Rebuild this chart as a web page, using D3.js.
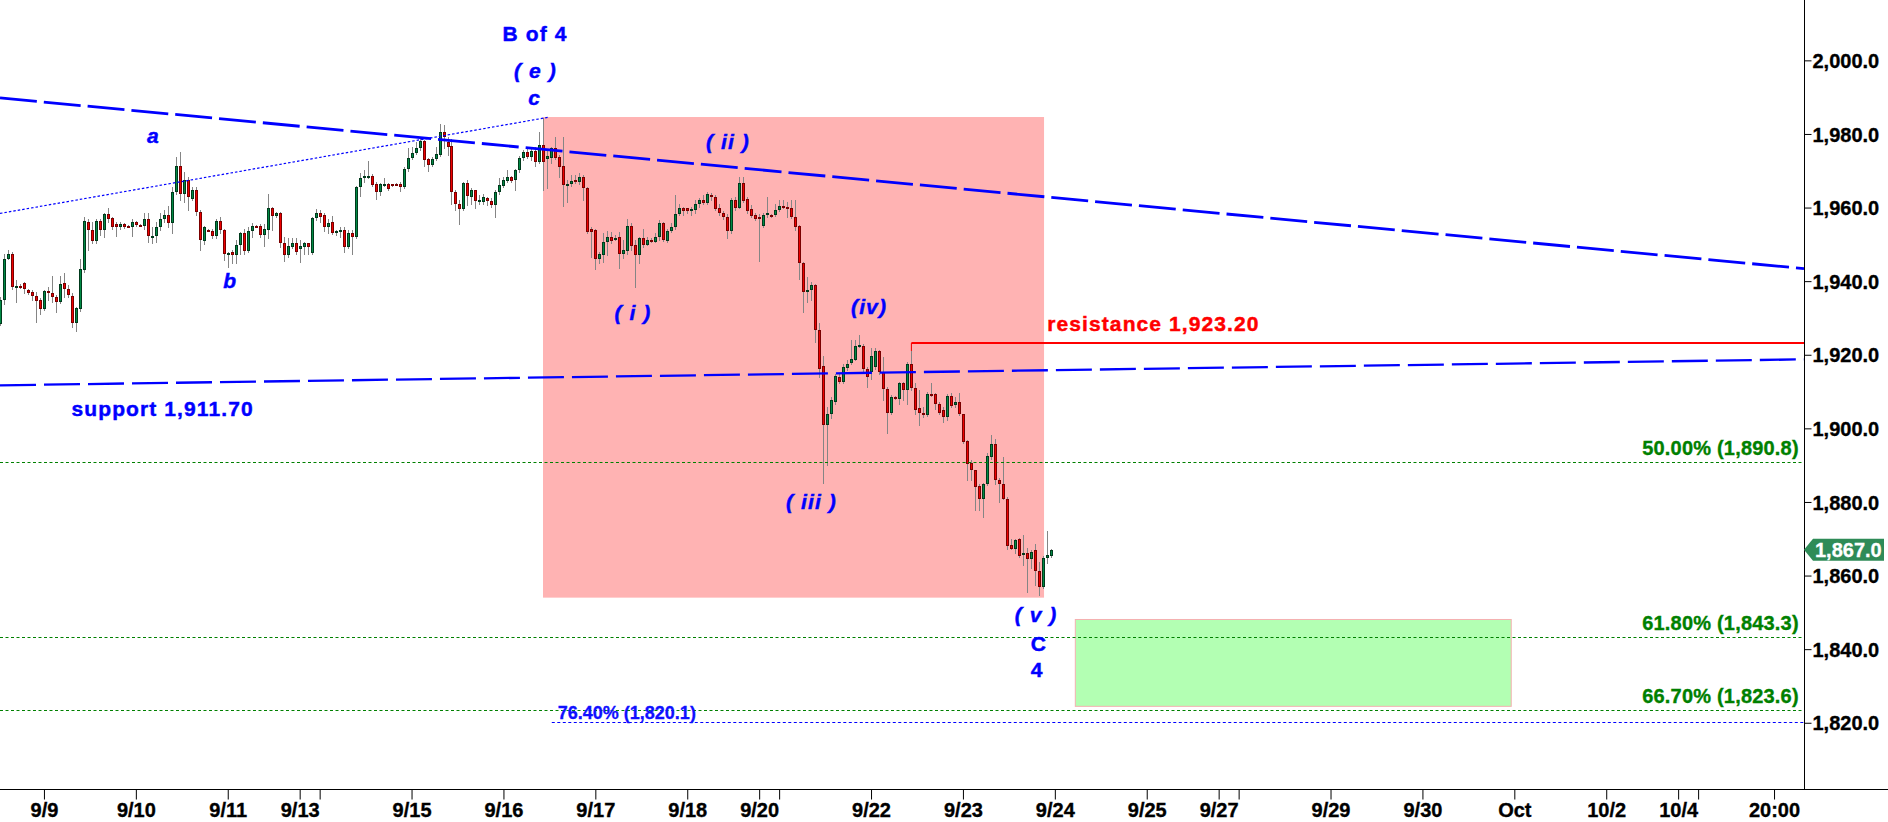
<!DOCTYPE html>
<html><head><meta charset="utf-8">
<script src="https://cdn.jsdelivr.net/npm/d3@7"></script>
<style>
html,body{margin:0;padding:0;background:#fff;overflow:hidden;}
svg{display:block;font-family:"Liberation Sans",Arial,sans-serif;}
</style></head><body>
<svg id="chart" width="1888" height="822"></svg>
<script>
// ---------- DATA (hourly candles, index = hour slot) ----------
const opens=[1928.3,1935.0,1946.1,1947.5,1938.3,1938.8,1939.5,1937.6,1937.0,1936.1,1934.9,1932.5,1937.2,1936.7,1935.6,1934.4,1939.5,1937.9,1936.1,1928.7,
1932.5,1943.0,1956.0,1954.0,1951.0,1956.4,1954.0,1958.2,1957.1,1955.4,1954.6,1955.4,1955.0,1954.6,1956.0,1955.2,1955.1,1956.9,1952.2,1952.2,
1954.6,1956.8,1957.9,1955.7,1964.2,1971.4,1963.7,1967.5,1962.2,1964.9,1958.7,1951.0,1954.0,1953.6,1952.2,1956.3,1953.9,1947.4,1947.9,1947.2,
1949.7,1953.1,1948.3,1953.5,1955.0,1954.9,1952.6,1954.0,1959.8,1957.8,1958.4,1950.4,1947.2,1949.3,1950.3,1948.8,1949.3,1950.3,1947.7,1957.1,
1958.4,1957.9,1954.8,1956.0,1953.0,1953.8,1953.9,1949.3,1953.2,1951.9,1965.5,1967.9,1968.5,1968.6,1966.4,1964.2,1966.3,1966.4,1966.3,1966.4,
1966.4,1965.5,1970.4,1973.4,1974.7,1976.2,1978.0,1973.1,1971.6,1973.1,1974.3,1980.6,1977.9,1976.7,1964.3,1961.1,1959.7,1966.6,1962.9,1964.7,
1961.9,1961.5,1962.6,1961.8,1960.6,1964.2,1965.8,1967.3,1968.2,1967.5,1970.2,1973.6,1975.1,1973.8,1975.4,1972.4,1977.0,1973.3,1973.4,1976.3,
1973.8,1971.3,1966.2,1966.3,1967.6,1967.0,1968.2,1965.2,1954.1,1953.9,1946.1,1947.1,1950.6,1952.1,1951.6,1951.9,1947.4,1948.3,1955.1,1949.7,
1947.0,1951.7,1949.8,1951.2,1950.7,1951.9,1955.7,1951.0,1953.5,1954.6,1958.2,1959.8,1959.8,1959.5,1959.3,1960.9,1962.0,1961.3,1963.4,1962.8,
1959.9,1958.6,1957.5,1953.7,1962.0,1960.0,1966.6,1962.4,1959.5,1957.9,1957.5,1955.0,1957.9,1958.0,1957.9,1959.3,1960.5,1960.2,1959.8,1957.3,
1955.0,1945.0,1937.1,1937.7,1938.9,1926.8,1916.9,1900.9,1903.8,1907.2,1914.0,1912.6,1916.5,1917.8,1918.7,1922.4,1922.5,1916.2,1915.3,1916.7,
1921.0,1915.3,1910.8,1904.2,1908.5,1908.0,1912.2,1910.5,1917.6,1911.1,1905.4,1904.2,1903.5,1909.4,1909.3,1906.7,1905.1,1903.1,1908.7,1906.3,
1907.1,1903.8,1896.5,1890.6,1888.6,1884.3,1880.8,1884.8,1892.2,1895.7,1886.1,1884.8,1880.9,1868.2,1867.3,1869.8,1865.8,1866.0,1864.5,1866.9,
1861.3,1856.9,1864.9,1865.3];
const highs=[1935.8,1947.5,1948.4,1948.0,1940.3,1939.2,1939.8,1938.0,1937.6,1937.1,1935.3,1937.6,1938.5,1941.4,1936.2,1941.4,1942.1,1938.9,1936.7,1933.0,
1945.9,1957.3,1957.0,1956.1,1957.0,1957.0,1958.4,1959.8,1957.5,1956.1,1956.0,1955.8,1955.3,1956.8,1956.3,1955.4,1958.4,1958.4,1954.8,1956.1,
1958.4,1959.3,1960.4,1965.5,1973.8,1975.2,1969.7,1968.4,1965.5,1965.5,1959.3,1955.1,1954.2,1954.3,1957.0,1957.5,1954.2,1948.0,1948.4,1951.2,
1953.4,1954.3,1954.8,1955.9,1955.2,1955.5,1955.5,1963.6,1960.2,1958.8,1958.8,1951.9,1951.6,1951.6,1951.6,1951.2,1950.7,1950.4,1957.5,1959.5,
1959.3,1958.4,1957.0,1957.7,1954.0,1954.8,1954.6,1953.9,1953.9,1965.8,1969.3,1970.2,1972.6,1969.1,1967.0,1966.6,1967.9,1966.7,1966.5,1966.6,
1967.0,1971.1,1976.1,1976.5,1977.9,1978.8,1978.3,1973.6,1973.8,1976.5,1982.7,1982.4,1979.2,1978.5,1964.9,1962.0,1967.0,1967.5,1965.2,1964.9,
1963.3,1963.7,1963.0,1962.5,1964.7,1967.9,1968.2,1970.2,1968.6,1970.6,1974.0,1975.6,1976.5,1976.1,1976.5,1980.6,1984.2,1975.6,1976.5,1979.2,
1974.3,1979.2,1967.5,1968.8,1968.8,1969.5,1968.8,1965.6,1954.8,1954.3,1948.0,1953.0,1953.7,1953.4,1952.5,1953.4,1951.3,1956.8,1955.7,1951.2,
1952.1,1954.3,1952.1,1951.6,1953.0,1956.6,1956.1,1954.3,1955.7,1963.4,1961.1,1960.2,1960.0,1960.2,1962.0,1962.7,1963.4,1964.3,1964.0,1963.4,
1961.1,1959.1,1958.2,1962.5,1963.0,1968.2,1968.2,1962.9,1960.7,1958.4,1958.2,1958.4,1963.0,1958.2,1961.1,1962.0,1962.0,1961.6,1962.0,1962.0,
1955.3,1945.3,1941.2,1939.8,1939.3,1928.5,1919.6,1905.8,1908.5,1914.9,1914.7,1917.6,1918.5,1923.9,1923.9,1925.3,1923.0,1916.7,1921.7,1921.7,
1921.4,1919.4,1911.3,1909.0,1908.8,1912.6,1912.6,1918.0,1923.2,1912.2,1910.4,1905.8,1909.9,1912.2,1909.5,1907.2,1905.8,1909.3,1909.5,1908.5,
1909.5,1904.0,1896.8,1891.3,1888.6,1885.0,1885.2,1893.2,1898.1,1897.2,1886.6,1892.1,1881.4,1869.8,1869.8,1870.3,1870.9,1867.4,1867.0,1868.7,
1863.7,1865.3,1872.1,1867.3];
const lows=[1928.0,1933.8,1945.9,1938.0,1934.2,1938.2,1936.7,1936.5,1934.9,1929.0,1931.2,1932.1,1934.9,1934.4,1931.5,1934.0,1935.8,1935.8,1927.6,1926.4,
1931.9,1942.6,1948.4,1950.3,1950.4,1952.5,1952.1,1956.1,1954.1,1952.2,1954.2,1954.4,1954.6,1952.2,1955.0,1954.9,1954.3,1950.7,1950.4,1950.7,
1953.9,1956.1,1954.6,1953.0,1963.8,1962.0,1961.6,1959.3,1962.0,1957.9,1948.4,1950.1,1953.6,1951.6,1951.6,1953.0,1945.7,1943.9,1944.8,1944.8,
1947.5,1947.5,1948.0,1952.1,1954.6,1952.1,1949.6,1951.6,1953.9,1957.4,1949.3,1945.5,1946.6,1948.9,1947.5,1945.3,1947.5,1947.5,1947.5,1956.6,
1956.1,1953.7,1953.2,1952.8,1952.6,1952.1,1948.0,1948.9,1947.5,1951.6,1963.2,1967.0,1967.9,1965.8,1962.4,1963.4,1965.8,1964.7,1965.9,1966.0,
1964.6,1965.2,1970.0,1973.1,1974.5,1975.6,1971.3,1970.0,1971.3,1972.9,1974.0,1976.1,1974.3,1961.1,1959.3,1955.5,1959.3,1960.7,1961.1,1959.8,
1961.1,1960.9,1960.6,1960.2,1957.3,1963.8,1965.6,1966.9,1966.9,1964.9,1969.7,1972.9,1973.4,1972.9,1971.3,1972.2,1964.9,1965.2,1972.0,1973.3,
1968.2,1960.4,1961.6,1965.8,1966.7,1966.5,1962.0,1953.0,1946.6,1943.2,1944.8,1945.3,1947.1,1950.3,1951.2,1943.5,1946.2,1947.5,1948.4,1938.3,
1944.8,1949.3,1949.8,1950.7,1950.7,1951.2,1951.0,1950.7,1953.3,1954.3,1957.9,1957.9,1958.6,1957.9,1958.4,1960.2,1961.1,1961.1,1962.0,1959.3,
1957.9,1956.8,1951.6,1953.2,1959.3,1959.8,1961.6,1958.4,1957.5,1956.6,1945.5,1954.6,1957.3,1957.5,1957.7,1959.1,1960.0,1957.5,1957.1,1953.9,
1940.7,1931.6,1934.4,1934.8,1923.5,1914.0,1885.2,1890.0,1902.7,1906.7,1912.2,1912.4,1915.8,1917.6,1918.5,1922.1,1915.6,1911.3,1913.5,1916.2,
1914.7,1907.7,1898.8,1904.0,1908.0,1906.7,1907.6,1906.6,1910.4,1904.0,1900.9,1903.1,1903.3,1908.9,1905.3,1904.0,1901.8,1902.2,1905.8,1905.8,
1903.6,1896.1,1885.9,1885.9,1877.8,1877.8,1876.0,1884.5,1891.8,1885.0,1880.0,1880.7,1867.3,1867.1,1866.0,1865.1,1862.8,1855.6,1862.0,1857.4,
1854.7,1856.7,1863.5,1865.1];
const closes=[1935.0,1945.9,1947.5,1938.5,1938.8,1938.6,1937.8,1936.8,1936.1,1934.7,1932.5,1937.2,1936.7,1935.6,1934.4,1939.2,1937.9,1936.3,1928.7,1932.7,
1943.2,1956.3,1953.9,1951.0,1956.4,1954.0,1958.2,1957.0,1954.8,1954.6,1955.4,1954.8,1954.9,1956.0,1955.3,1955.1,1956.9,1952.2,1952.4,1954.6,
1957.0,1957.9,1955.7,1964.2,1971.4,1963.7,1967.5,1962.8,1964.9,1958.7,1951.2,1954.8,1953.8,1952.2,1956.3,1953.9,1947.5,1947.6,1947.2,1949.7,
1953.0,1948.3,1953.5,1954.9,1954.8,1952.6,1954.2,1959.8,1957.8,1958.4,1950.4,1947.2,1949.5,1950.5,1948.0,1949.5,1950.3,1949.3,1957.1,1958.4,
1957.5,1954.8,1955.7,1953.0,1953.6,1954.0,1949.3,1953.2,1951.9,1965.5,1967.9,1968.6,1968.7,1966.2,1964.2,1966.4,1966.5,1965.1,1966.1,1966.2,
1965.5,1970.4,1973.4,1974.7,1976.2,1978.0,1972.9,1971.6,1973.1,1974.5,1980.6,1979.1,1976.5,1964.3,1960.9,1959.7,1966.6,1963.1,1964.7,1961.8,
1962.1,1962.8,1961.9,1960.6,1964.2,1966.1,1967.5,1968.2,1967.3,1970.2,1973.6,1975.1,1973.8,1975.4,1972.4,1977.0,1972.4,1973.9,1976.3,1973.6,
1971.1,1966.1,1966.4,1967.3,1967.1,1968.2,1965.2,1953.4,1953.4,1946.1,1947.4,1950.6,1951.9,1951.0,1951.8,1947.5,1948.4,1955.1,1949.5,1947.0,
1951.6,1949.7,1951.2,1951.0,1952.1,1955.7,1951.3,1953.7,1954.8,1958.2,1959.8,1959.0,1959.1,1959.7,1960.9,1962.0,1961.3,1963.7,1962.8,1959.7,
1958.4,1957.5,1953.7,1962.0,1960.0,1966.6,1961.8,1959.1,1957.7,1957.0,1956.8,1957.9,1958.4,1957.8,1959.3,1960.4,1960.3,1959.5,1957.3,1954.8,
1945.0,1937.1,1937.7,1938.9,1926.8,1916.2,1900.9,1903.8,1907.6,1914.2,1912.6,1916.7,1917.6,1918.8,1922.3,1922.6,1916.0,1914.0,1919.6,1921.0,
1915.3,1910.8,1904.2,1908.5,1908.3,1912.2,1910.5,1917.4,1911.1,1905.1,1904.2,1903.5,1909.3,1909.2,1906.7,1904.2,1903.0,1908.7,1906.2,1907.1,
1903.8,1896.3,1890.4,1888.6,1884.1,1880.8,1885.0,1892.4,1895.7,1885.9,1884.8,1880.9,1868.1,1867.3,1869.6,1865.3,1866.0,1864.5,1866.4,1861.3,
1856.9,1864.9,1865.5,1867.0];

const dateTickSlots=[11,34,57,75,80,103,126,149,172,190,195,218,241,264,287,305,310,333,356,379,402,420,425,444];
const dateTickLabels=["9/9","9/10","9/11","9/13","","9/15","9/16","9/17","9/18","9/20","","9/22","9/23","9/24","9/25","9/27","","9/29","9/30","Oct","10/2","10/4","","20:00"];
const priceTicks=[1820,1840,1860,1880,1900,1920,1940,1960,1980,2000];
const lastPrice=1867.0;

const channelTop=[[0,1989.8],[451.5,1943.4]];      // long-dash upper line
const channelSupport=[[0,1911.7],[451.5,1918.75]]; // long-dash support line
const bdLine=[[0,1958.4],[137.1,1984.5]];          // dotted b-d line
const resistanceLine=[[228.1,1923.2],[451.5,1923.2]];
const fibLevels=[{label:"50.00% (1,890.8)",value:1890.8},{label:"61.80% (1,843.3)",value:1843.3},{label:"66.70% (1,823.6)",value:1823.6}];
const fib764={label:"76.40% (1,820.1)",value:1820.1,from:138.1};
const waveBox={x0:135.9,x1:261.3,p0:1854.0,p1:1984.6};
const targetBox={x0:269.0,x1:378.1,p0:1824.6,p1:1848.2};

const waveLabels=[
 {t:"B of 4",s:133.9,p:2005.3,italic:false},
 {t:"( e )",s:134.0,p:1995.3,italic:true},
 {t:"c",s:133.8,p:1987.8,italic:true},
 {t:"a",s:38.4,p:1977.6,italic:true},
 {t:"b",s:57.6,p:1938.2,italic:true},
 {t:"( ii )",s:182.2,p:1976.0,italic:true},
 {t:"( i )",s:158.4,p:1929.4,italic:true},
 {t:"(iv)",s:217.5,p:1931.2,italic:true},
 {t:"( iii )",s:203.1,p:1878.2,italic:true},
 {t:"( v )",s:259.3,p:1847.4,italic:true},
 {t:"C",s:260.0,p:1839.5,italic:false},
 {t:"4",s:259.6,p:1832.3,italic:false}
];
const supportLabel={t:"support 1,911.70",s:17.9,p:1903.3};
const resistanceLabel={t:"resistance 1,923.20",s:262.1,p:1926.5};

// ---------- SCALES ----------
const W=1888,H=822, axisX=1804, axisY=789;
const x=d3.scaleLinear().domain([0,451.5]).range([0,axisX]);
const y=d3.scaleLinear().domain([1802,2016.4]).range([axisY,0]);
const svg=d3.select("#chart");
svg.append("rect").attr("width",W).attr("height",H).attr("fill","#fff");

const plot=svg.append("g");
// boxes
plot.append("rect").attr("x",x(waveBox.x0)).attr("y",y(waveBox.p1))
 .attr("width",x(waveBox.x1)-x(waveBox.x0)).attr("height",y(waveBox.p0)-y(waveBox.p1))
 .attr("fill","#ffb3b3");
plot.append("rect").attr("x",x(targetBox.x0)+0.5).attr("y",y(targetBox.p1)+0.5)
 .attr("width",x(targetBox.x1)-x(targetBox.x0)).attr("height",y(targetBox.p0)-y(targetBox.p1))
 .attr("fill","#b3ffb3").attr("stroke","#f4b0b0").attr("stroke-width",1);

// candles
const idx=d3.range(closes.length);
const cg=plot.append("g").attr("shape-rendering","crispEdges");
cg.selectAll("line.w").data(idx).join("line")
 .attr("x1",i=>Math.round(x(i))+0.5).attr("x2",i=>Math.round(x(i))+0.5)
 .attr("y1",i=>Math.round(y(highs[i]))).attr("y2",i=>Math.round(y(lows[i]))+1)
 .attr("stroke","#858585").attr("stroke-width",1);
cg.selectAll("rect.b").data(idx).join("rect")
 .attr("x",i=>Math.round(x(i))-0.5)
 .attr("y",i=>Math.round(y(Math.max(opens[i],closes[i])))+0.5)
 .attr("width",2)
 .attr("height",i=>{const t=Math.round(y(Math.max(opens[i],closes[i]))),b=Math.round(y(Math.min(opens[i],closes[i])));return Math.max(b-t,2)-1;})
 .attr("fill",i=>closes[i]>=opens[i]?"#008a45":"#ee0000")
 .attr("stroke",i=>closes[i]>=opens[i]?"#003a1c":"#7a0000")
 .attr("stroke-width",1);

// fib lines
const line=d3.line().x(d=>x(d[0])).y(d=>y(d[1]));
const heavy=(sel,c,w)=>sel.attr("stroke",c).attr("stroke-width",w).attr("paint-order","stroke");
fibLevels.forEach(f=>{
 plot.append("line").attr("x1",0).attr("x2",axisX).attr("y1",Math.round(y(f.value))+0.5).attr("y2",Math.round(y(f.value))+0.5)
  .attr("stroke","#008000").attr("stroke-width",1).attr("stroke-dasharray","3,2.5");
 heavy(plot.append("text").attr("x",x(450.2)).attr("y",y(f.value)-7).attr("text-anchor","end")
  .attr("font-size",20).attr("font-weight","bold").attr("fill","#008000").attr("letter-spacing","0.2px").text(f.label),"#008000",0.35);
});
plot.append("line").attr("x1",x(fib764.from)).attr("x2",axisX).attr("y1",Math.round(y(fib764.value))+0.5).attr("y2",Math.round(y(fib764.value))+0.5)
 .attr("stroke","#0000ff").attr("stroke-width",1).attr("stroke-dasharray","3,2.5");
heavy(plot.append("text").attr("x",x(fib764.from)+6).attr("y",y(fib764.value)-3)
 .attr("font-size",18).attr("font-weight","bold").attr("fill","#1010ff").text(fib764.label),"#1010ff",0.3);

// trend lines
plot.append("path").attr("d",line(channelTop)).attr("fill","none").attr("stroke","#0000ff").attr("stroke-width",2.8).attr("stroke-dasharray","37,7");
plot.append("path").attr("d",line(channelSupport)).attr("fill","none").attr("stroke","#0000ff").attr("stroke-width",2.3).attr("stroke-dasharray","36,8");
plot.append("path").attr("d",line(bdLine)).attr("fill","none").attr("stroke","#0000ff").attr("stroke-width",1.2).attr("stroke-dasharray","2.5,2");
plot.append("path").attr("d",line(resistanceLine)).attr("fill","none").attr("stroke","#ff0000").attr("stroke-width",2);
plot.append("line").attr("x1",x(resistanceLine[0][0])).attr("x2",x(resistanceLine[0][0]))
 .attr("y1",y(resistanceLine[0][1])).attr("y2",y(resistanceLine[0][1])+8).attr("stroke","#ff0000").attr("stroke-width",1);

// labels
const lbl=plot.append("g").attr("font-weight","bold").attr("fill","#0000ff").attr("font-size",21).attr("letter-spacing","1.1px")
 .attr("stroke","#0000ff").attr("stroke-width",0.45).attr("paint-order","stroke");
lbl.selectAll("text").data(waveLabels).join("text")
 .attr("x",d=>x(d.s)).attr("y",d=>y(d.p)).attr("text-anchor","middle")
 .attr("font-style",d=>d.italic?"italic":"normal").text(d=>d.t);
lbl.append("text").attr("x",x(supportLabel.s)).attr("y",y(supportLabel.p)).text(supportLabel.t);
heavy(plot.append("text").attr("x",x(resistanceLabel.s)).attr("y",y(resistanceLabel.p)).attr("font-size",21).attr("font-weight","bold")
 .attr("letter-spacing","1.1px").attr("fill","#ff0000").text(resistanceLabel.t),"#ff0000",0.45);

// axes
const ax=svg.append("g").attr("shape-rendering","crispEdges");
ax.append("line").attr("x1",axisX+0.5).attr("x2",axisX+0.5).attr("y1",0).attr("y2",axisY).attr("stroke","#000");
ax.append("line").attr("x1",0).attr("x2",W).attr("y1",axisY+0.5).attr("y2",axisY+0.5).attr("stroke","#000");
const yAxis=d3.axisRight(y).tickValues(priceTicks).tickSize(7).tickPadding(1).tickFormat(d3.format(",.1f"));
const yg=svg.append("g").attr("transform",`translate(${axisX+0.5},0)`).call(yAxis);
yg.select(".domain").remove();
yg.selectAll("text").attr("font-size",20).attr("font-weight","bold").attr("fill","#000").attr("stroke","#000").attr("stroke-width",0.35)
 .attr("font-family","Liberation Sans, Arial, sans-serif").attr("dy","0.36em");
const xAxis=d3.axisBottom(x).tickValues(dateTickSlots).tickSize(10).tickPadding(8).tickFormat((d,i)=>dateTickLabels[i]);
const xg=svg.append("g").attr("transform",`translate(0,${axisY+0.5})`).call(xAxis);
xg.select(".domain").remove();
xg.selectAll("text").attr("font-size",20).attr("font-weight","bold").attr("fill","#000").attr("stroke","#000").attr("stroke-width",0.35)
 .attr("font-family","Liberation Sans, Arial, sans-serif").attr("dy","0.46em");

// last price marker
const ly=y(lastPrice);
svg.append("path").attr("d",`M${axisX},${ly} L${axisX+9},${ly-11} L${axisX+80},${ly-11} L${axisX+80},${ly+11} L${axisX+9},${ly+11} Z`).attr("fill","#2e8b57");
svg.append("text").attr("x",axisX+11).attr("y",ly+7).attr("font-size",20).attr("font-weight","bold").attr("fill","#fff")
 .attr("stroke","#fff").attr("stroke-width",0.3).text(d3.format(",.1f")(lastPrice));
</script>
</body></html>
